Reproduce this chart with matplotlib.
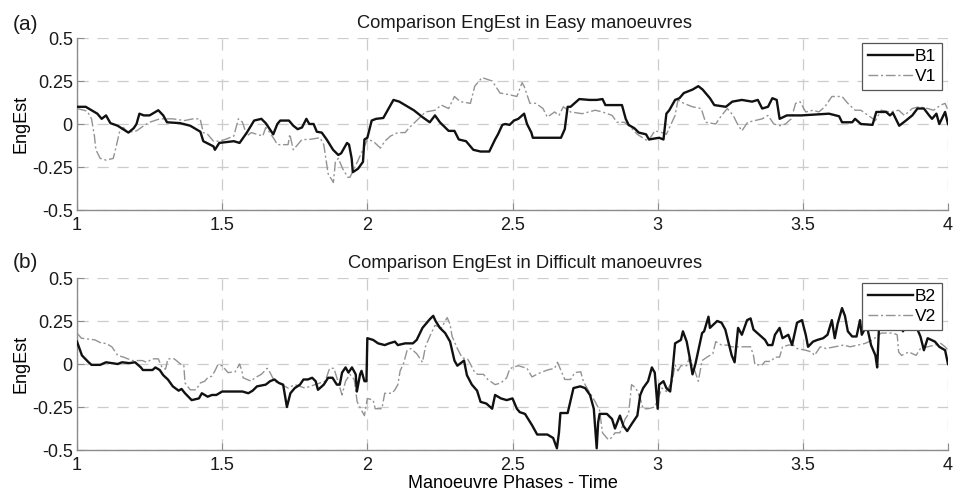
import matplotlib
matplotlib.use("Agg")
import matplotlib.pyplot as plt

plt.rcParams['font.family'] = ['Liberation Sans', 'DejaVu Sans']

# ---------------- data ----------------
b1_t = [1.000,1.030,1.070,1.085,1.100,1.115,1.140,1.177,1.195,1.205,1.215,1.230,1.250,1.280,1.297,1.310,1.355,1.390,1.425,1.435,
        1.470,1.475,1.490,1.540,1.560,1.585,1.610,1.635,1.650,1.660,1.676,1.690,1.700,1.730,1.745,1.760,1.775,1.790,1.800,1.815,
        1.826,1.843,1.860,1.882,1.900,1.910,1.930,1.937,1.946,1.950,1.968,1.985,1.990,2.000,2.015,2.030,2.055,2.070,2.090,2.110,
        2.130,2.160,2.190,2.215,2.233,2.250,2.280,2.300,2.315,2.340,2.365,2.390,2.420,2.440,2.450,2.465,2.475,2.490,2.505,2.520,
        2.540,2.550,2.565,2.570,2.615,2.667,2.680,2.690,2.700,2.730,2.765,2.790,2.810,2.820,2.877,2.890,2.900,2.920,2.935,2.960,
        2.970,3.005,3.020,3.030,3.040,3.060,3.075,3.090,3.120,3.140,3.155,3.180,3.195,3.235,3.257,3.290,3.325,3.345,3.360,3.380,
        3.395,3.410,3.420,3.445,3.495,3.590,3.625,3.635,3.670,3.680,3.700,3.740,3.753,3.787,3.800,3.810,3.832,3.855,3.877,3.895,
        3.917,3.935,3.945,3.960,3.970,3.990,4.000]
b1_v = [0.10,0.10,0.06,0.03,0.05,0.005,-0.01,-0.05,-0.025,0.00,0.06,0.05,0.05,0.08,0.05,0.01,0.005,-0.01,-0.045,-0.10,
        -0.13,-0.15,-0.11,-0.10,-0.11,-0.05,0.02,0.03,0.005,-0.02,-0.06,0.00,0.02,0.02,-0.01,-0.03,-0.02,0.03,0.00,0.00,
        -0.045,-0.05,-0.09,-0.15,-0.18,-0.17,-0.11,-0.12,-0.20,-0.28,-0.26,-0.22,-0.09,-0.08,0.02,0.03,0.035,0.08,0.14,0.13,
        0.11,0.08,0.04,0.01,0.05,0.01,-0.04,-0.04,-0.09,-0.10,-0.15,-0.16,-0.16,-0.09,-0.06,-0.005,0.00,-0.005,0.02,0.03,
        0.06,0.00,-0.05,-0.08,-0.08,-0.08,-0.03,0.10,0.10,0.145,0.14,0.14,0.145,0.11,0.11,0.03,-0.005,-0.025,-0.05,-0.06,
        -0.09,-0.08,-0.09,0.06,0.08,0.14,0.15,0.18,0.20,0.22,0.20,0.15,0.11,0.10,0.13,0.14,0.13,0.14,0.09,0.10,
        0.15,0.14,0.03,0.05,0.05,0.06,0.045,0.01,0.01,0.03,0.00,-0.005,0.07,0.07,0.05,0.065,-0.01,0.02,0.05,0.09,
        0.09,0.05,0.03,0.06,0.00,0.07,0.00]

v1_t = [1.000,1.035,1.050,1.060,1.065,1.080,1.100,1.125,1.135,1.148,1.160,1.175,1.205,1.230,1.250,1.285,1.330,1.370,1.400,1.424,
        1.435,1.450,1.470,1.490,1.510,1.540,1.556,1.570,1.585,1.600,1.640,1.650,1.660,1.680,1.690,1.727,1.733,1.745,1.760,1.775,
        1.800,1.837,1.850,1.865,1.883,1.890,1.900,1.915,1.933,1.940,1.963,1.990,2.000,2.020,2.045,2.060,2.080,2.105,2.130,2.145,
        2.170,2.200,2.233,2.255,2.280,2.300,2.320,2.355,2.370,2.395,2.430,2.457,2.490,2.515,2.533,2.540,2.560,2.580,2.605,2.620,
        2.645,2.660,2.675,2.700,2.740,2.785,2.810,2.843,2.860,2.885,2.905,2.930,2.967,2.990,3.015,3.030,3.060,3.070,3.090,3.120,
        3.150,3.165,3.200,3.220,3.240,3.260,3.275,3.290,3.310,3.360,3.380,3.400,3.420,3.440,3.460,3.475,3.490,3.510,3.535,3.555,
        3.576,3.600,3.635,3.655,3.680,3.700,3.725,3.750,3.770,3.800,3.830,3.850,3.877,3.900,3.930,3.950,3.975,3.990,4.000]
v1_v = [0.09,0.075,0.03,-0.07,-0.15,-0.20,-0.21,-0.20,-0.13,-0.035,-0.02,-0.05,-0.04,-0.01,0.01,0.03,0.03,0.02,0.03,0.03,
        -0.05,-0.06,-0.10,-0.10,-0.09,-0.07,0.03,0.01,-0.07,-0.05,-0.07,-0.02,-0.04,-0.09,-0.12,-0.12,-0.06,-0.15,-0.12,-0.09,
        -0.09,-0.08,-0.12,-0.29,-0.34,-0.22,-0.20,-0.26,-0.31,-0.31,-0.23,-0.13,-0.09,-0.10,-0.14,-0.10,-0.07,-0.05,-0.05,-0.02,
        0.02,0.07,0.08,0.11,0.09,0.16,0.13,0.12,0.22,0.27,0.25,0.18,0.17,0.16,0.24,0.22,0.12,0.12,0.09,0.04,
        0.07,0.05,0.10,0.07,0.06,0.08,0.07,0.05,0.01,0.01,-0.015,-0.06,-0.10,-0.04,-0.05,-0.06,0.05,0.14,0.12,0.10,
        0.09,0.01,0.00,0.05,0.09,0.05,0.00,-0.04,0.01,0.03,0.05,0.00,-0.01,0.00,0.03,0.12,0.13,0.07,0.08,0.07,
        0.10,0.16,0.16,0.12,0.08,0.08,0.05,0.02,0.08,0.07,0.08,0.05,0.09,0.10,0.09,0.08,0.11,0.12,0.08]

b2_t = [1.000,1.017,1.040,1.050,1.080,1.100,1.120,1.140,1.155,1.180,1.200,1.220,1.227,1.260,1.270,1.285,1.297,1.313,1.330,1.350,
        1.360,1.372,1.395,1.420,1.430,1.450,1.465,1.480,1.500,1.570,1.590,1.605,1.620,1.650,1.665,1.680,1.695,1.710,1.720,1.723,
        1.735,1.750,1.768,1.780,1.795,1.810,1.822,1.830,1.850,1.865,1.880,1.895,1.905,1.913,1.925,1.935,1.947,1.960,1.964,1.975,
        1.980,1.990,1.997,2.000,2.020,2.037,2.060,2.075,2.095,2.105,2.130,2.157,2.170,2.190,2.205,2.215,2.227,2.235,2.250,2.268,
        2.285,2.300,2.310,2.325,2.333,2.343,2.360,2.378,2.390,2.410,2.430,2.440,2.460,2.480,2.500,2.515,2.525,2.543,2.567,2.585,
        2.620,2.640,2.653,2.660,2.665,2.690,2.710,2.733,2.750,2.767,2.780,2.790,2.795,2.800,2.825,2.843,2.853,2.870,2.882,2.895,
        2.910,2.930,2.940,2.950,2.967,2.980,2.990,3.000,3.005,3.020,3.030,3.043,3.050,3.060,3.080,3.087,3.100,3.110,3.120,3.130,
        3.153,3.160,3.175,3.180,3.205,3.220,3.233,3.255,3.265,3.277,3.290,3.308,3.320,3.330,3.350,3.370,3.380,3.395,3.404,3.420,
        3.430,3.450,3.463,3.480,3.497,3.510,3.518,3.535,3.550,3.570,3.585,3.600,3.610,3.620,3.635,3.645,3.655,3.670,3.685,3.697,
        3.703,3.720,3.735,3.750,3.756,3.762,3.780,3.800,3.820,3.845,3.865,3.890,3.905,3.917,3.930,3.955,3.970,3.990,4.000]
b2_v = [0.13,0.05,0.01,-0.005,-0.005,0.01,0.005,0.00,0.01,0.005,0.01,-0.02,-0.035,-0.035,-0.02,-0.035,-0.065,-0.09,-0.13,-0.155,
        -0.145,-0.17,-0.21,-0.20,-0.17,-0.19,-0.18,-0.18,-0.16,-0.16,-0.17,-0.155,-0.13,-0.12,-0.10,-0.09,-0.11,-0.12,-0.22,-0.25,
        -0.17,-0.14,-0.12,-0.09,-0.09,-0.08,-0.10,-0.15,-0.12,-0.08,-0.08,-0.12,-0.12,-0.05,-0.02,-0.05,-0.02,-0.06,-0.16,-0.06,
        -0.04,-0.10,-0.10,0.15,0.14,0.12,0.11,0.12,0.13,0.11,0.12,0.12,0.14,0.21,0.24,0.26,0.28,0.25,0.21,0.18,
        0.13,0.02,-0.01,0.01,0.02,-0.065,-0.12,-0.155,-0.22,-0.23,-0.26,-0.18,-0.20,-0.21,-0.20,-0.26,-0.28,-0.29,-0.355,-0.41,
        -0.41,-0.43,-0.49,-0.40,-0.285,-0.285,-0.14,-0.13,-0.14,-0.18,-0.26,-0.49,-0.34,-0.29,-0.29,-0.32,-0.375,-0.30,-0.36,-0.39,
        -0.35,-0.30,-0.18,-0.14,-0.10,-0.02,-0.05,-0.26,-0.12,-0.10,-0.14,-0.16,-0.06,0.12,0.14,0.19,0.13,0.04,-0.06,0.00,
        0.18,0.19,0.275,0.21,0.25,0.24,0.20,0.05,0.01,0.21,0.17,0.255,0.265,0.20,0.17,0.14,0.11,0.11,0.17,0.21,
        0.15,0.17,0.11,0.24,0.255,0.17,0.10,0.13,0.14,0.15,0.17,0.255,0.15,0.235,0.325,0.28,0.19,0.16,0.16,0.255,
        0.17,0.225,0.11,0.05,-0.02,0.20,0.27,0.24,0.30,0.19,0.26,0.22,0.16,0.08,0.15,0.13,0.10,0.08,0.00]

v2_t = [1.000,1.015,1.062,1.085,1.100,1.120,1.140,1.160,1.190,1.225,1.240,1.260,1.280,1.293,1.305,1.313,1.335,1.360,1.368,1.372,
        1.390,1.410,1.425,1.440,1.450,1.465,1.475,1.485,1.500,1.520,1.545,1.560,1.568,1.572,1.600,1.613,1.635,1.655,1.665,1.680,
        1.705,1.727,1.750,1.785,1.820,1.855,1.870,1.885,1.895,1.913,1.925,1.940,1.955,1.965,1.980,1.990,2.000,2.020,2.027,2.050,
        2.060,2.085,2.095,2.105,2.113,2.125,2.137,2.150,2.170,2.190,2.200,2.215,2.233,2.255,2.275,2.285,2.292,2.310,2.327,2.345,
        2.355,2.370,2.380,2.400,2.415,2.440,2.460,2.480,2.490,2.500,2.520,2.530,2.550,2.567,2.590,2.620,2.645,2.655,2.670,2.680,
        2.700,2.715,2.735,2.742,2.750,2.767,2.785,2.800,2.810,2.830,2.840,2.853,2.870,2.888,2.900,2.910,2.925,2.940,2.950,2.967,
        2.990,3.015,3.030,3.050,3.060,3.070,3.080,3.100,3.110,3.130,3.140,3.153,3.170,3.190,3.200,3.220,3.240,3.255,3.290,3.320,
        3.330,3.335,3.360,3.370,3.390,3.404,3.420,3.430,3.450,3.467,3.480,3.510,3.530,3.540,3.560,3.580,3.610,3.640,3.663,3.690,
        3.715,3.740,3.770,3.810,3.825,3.830,3.840,3.865,3.890,3.905,3.930,3.955,3.975,3.990,4.000]
v2_v = [0.18,0.15,0.14,0.12,0.12,0.10,0.05,0.04,0.02,0.02,0.01,0.03,0.03,-0.02,-0.03,0.03,0.03,-0.005,-0.01,-0.11,
        -0.15,-0.15,-0.11,-0.10,-0.08,-0.07,-0.04,-0.005,-0.01,-0.05,-0.045,0.00,-0.04,-0.08,-0.10,-0.08,-0.06,-0.025,-0.05,-0.10,
        -0.12,-0.14,-0.12,-0.14,-0.12,-0.10,-0.025,-0.025,-0.08,-0.18,-0.10,-0.06,-0.09,-0.22,-0.27,-0.30,-0.20,-0.21,-0.26,-0.26,
        -0.17,-0.17,-0.15,-0.12,-0.04,0.005,0.08,0.09,0.06,0.01,0.10,0.16,0.225,0.21,0.27,0.23,0.16,0.09,0.035,0.03,
        0.00,-0.05,-0.06,-0.06,-0.09,-0.12,-0.11,-0.08,-0.03,-0.02,-0.01,-0.015,-0.025,-0.075,-0.055,-0.035,-0.025,0.01,-0.05,-0.09,
        -0.09,-0.05,-0.045,-0.09,-0.12,-0.17,-0.22,-0.27,-0.40,-0.44,-0.43,-0.40,-0.40,-0.32,-0.29,-0.12,-0.14,-0.20,-0.26,-0.26,
        -0.25,-0.14,-0.16,-0.10,-0.005,-0.04,-0.01,-0.01,0.04,-0.05,-0.10,0.02,0.04,0.06,0.13,0.11,0.11,0.10,0.10,0.10,
        0.05,-0.005,-0.005,0.015,0.015,0.04,0.04,0.10,0.11,0.11,0.09,0.08,0.07,0.05,0.10,0.09,0.10,0.11,0.10,0.11,
        0.12,0.14,0.18,0.18,0.17,0.07,0.05,0.07,0.05,0.09,0.10,0.11,0.12,0.10,0.08]

x_ticks = [1, 1.5, 2, 2.5, 3, 3.5, 4]
x_tick_labels = ['1', '1.5', '2', '2.5', '3', '3.5', '4']
y_ticks = [-0.5, -0.25, 0, 0.25, 0.5]
y_tick_labels = ['-0.5', '-0.25', '0', '0.25', '0.5']

panels = [
    ('(a)', 'Comparison EngEst in Easy manoeuvres', 'B1', 'V1', b1_t, b1_v, v1_t, v1_v),
    ('(b)', 'Comparison EngEst in Difficult manoeuvres', 'B2', 'V2', b2_t, b2_v, v2_t, v2_v),
]

# ---------------- figure ----------------
W, H = 959, 494
fig = plt.figure(figsize=(W / 100, H / 100), dpi=100)

ax_left = 77 / W
ax_w = 871 / W
ax_h = 172 / H
bottoms = [1 - 210 / H, 1 - 450 / H]

grid_col = '#cccccc'
spine_col = '#8c8c8c'

for i, (tag, title, lb, lv, bt, bv, vt, vv) in enumerate(panels):
    ax = fig.add_axes([ax_left, bottoms[i], ax_w, ax_h])
    ax.plot(vt, vv, color='#939393', lw=1.0, dashes=(7, 2, 1.5, 2), label=lv, zorder=3)
    ax.plot(bt, bv, color='#111111', lw=1.7, label=lb, zorder=4)
    handles, labels = ax.get_legend_handles_labels()
    order = [1, 0]
    leg = ax.legend([handles[k] for k in order], [labels[k] for k in order],
                    loc='upper right', bbox_to_anchor=(0.9935, 0.972),
                    fontsize=12.5, frameon=True, fancybox=False, framealpha=1,
                    edgecolor='#555555', handlelength=2.6, handletextpad=0.1,
                    borderpad=0.35, labelspacing=0.3, borderaxespad=0)
    leg.get_frame().set_linewidth(0.9)
    leg.set_zorder(10)

    ax.set_xlim(1, 4)
    ax.set_ylim(-0.5, 0.5)
    ax.set_xticks(x_ticks)
    ax.set_xticklabels(x_tick_labels)
    ax.set_yticks(y_ticks)
    ax.set_yticklabels(y_tick_labels)
    ax.tick_params(direction='in', length=5, width=0.8, color=spine_col,
                   labelsize=13, pad=3, labelcolor='#1a1a1a')
    ax.tick_params(axis='x', pad=5)
    for s in ['top', 'right']:
        ax.spines[s].set_visible(False)
    for s in ['left', 'bottom']:
        ax.spines[s].set_color(spine_col)
        ax.spines[s].set_linewidth(1.0)
    ax.grid(True, color=grid_col, lw=0.9, dashes=(9, 7))
    ax.set_axisbelow(True)
    ax.set_ylabel('EngEst', fontsize=13, labelpad=2)
    ax.set_title(title, fontsize=13.2, x=0.514, pad=7, color='#1a1a1a')
    fig.text(13 / W, 1 - (25 if i == 0 else 262) / H, tag, fontsize=15,
             va='center', ha='left', color='#1a1a1a')
    if i == 1:
        ax.set_xlabel('Manoeuvre Phases - Time', fontsize=13, labelpad=1)

fig.savefig('out.png', dpi=100)
